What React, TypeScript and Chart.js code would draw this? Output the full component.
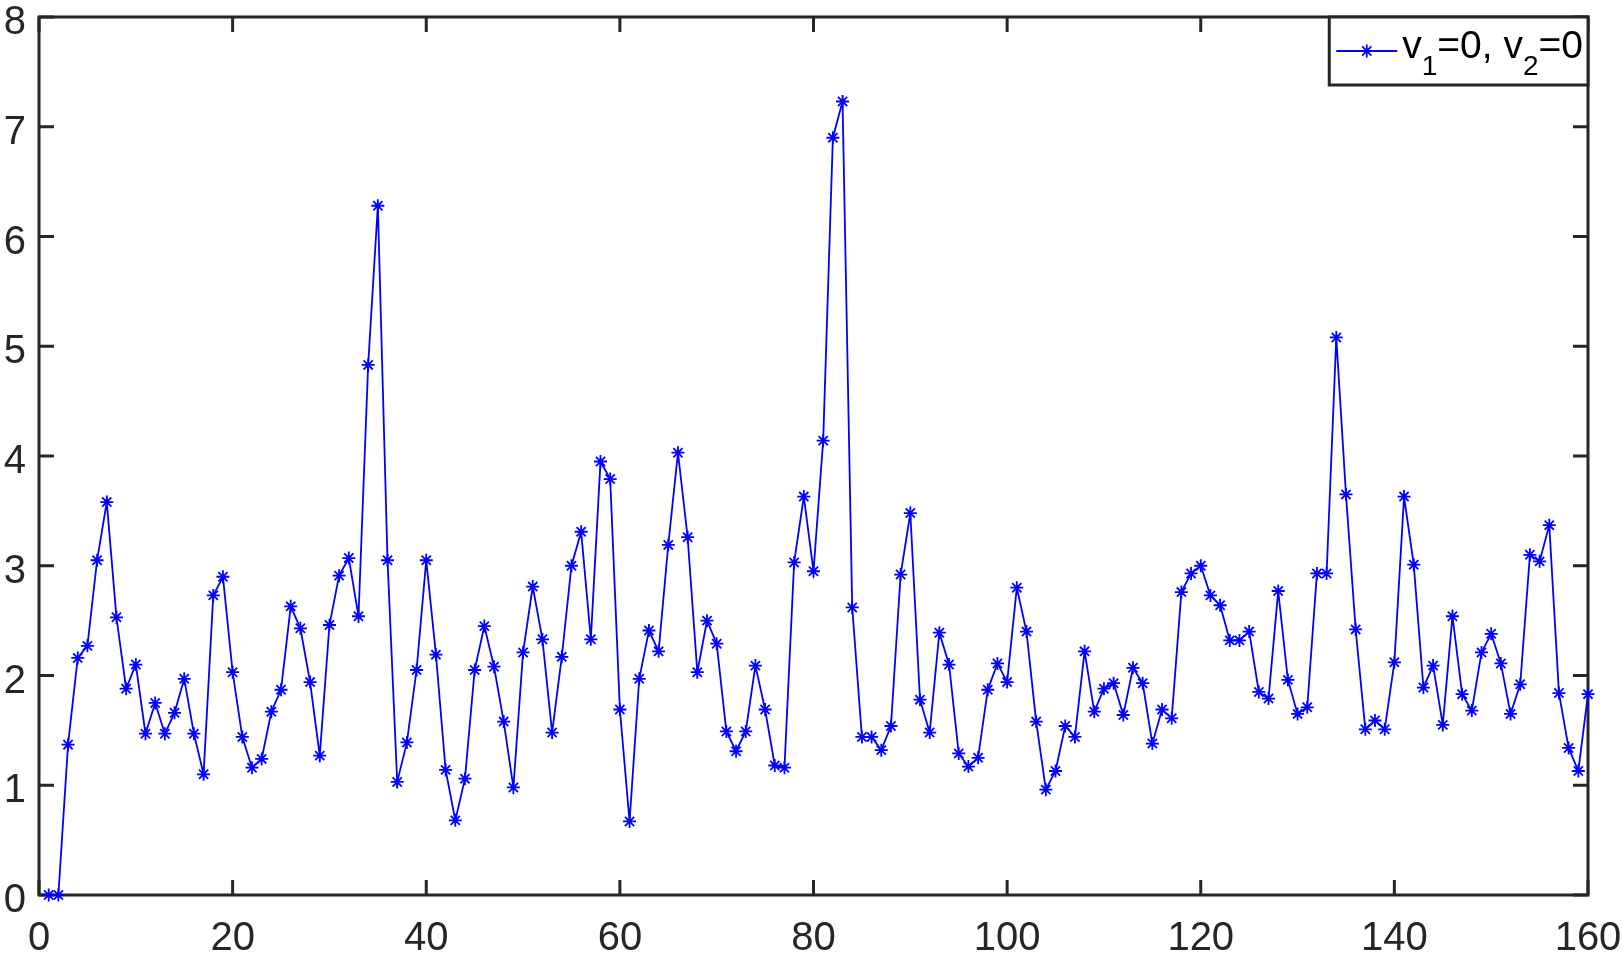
import React, { useEffect, useRef } from "react";
import { Chart, registerables } from "chart.js";

Chart.register(...registerables);

const yValues: number[] = [
  0, 0, 1.37, 2.16, 2.27, 3.05, 3.58, 2.53, 1.88, 2.1,
  1.47, 1.75, 1.47, 1.66, 1.97, 1.47, 1.1, 2.73, 2.9, 2.03,
  1.44, 1.16, 1.24, 1.67, 1.87, 2.63, 2.43, 1.94, 1.27, 2.46,
  2.91, 3.07, 2.54, 4.83, 6.28, 3.05, 1.03, 1.39, 2.05, 3.05,
  2.19, 1.14, 0.68, 1.06, 2.05, 2.45, 2.08, 1.58, 0.98, 2.21,
  2.81, 2.33, 1.48, 2.17, 3.0, 3.31, 2.33, 3.95, 3.79, 1.69,
  0.67, 1.97, 2.41, 2.22, 3.19, 4.03, 3.26, 2.03, 2.5, 2.29,
  1.49, 1.31, 1.49, 2.09, 1.69, 1.18, 1.16, 3.03, 3.63, 2.95,
  4.14, 6.9, 7.23, 2.62, 1.44, 1.44, 1.32, 1.54, 2.92, 3.48,
  1.78, 1.48, 2.39, 2.1, 1.29, 1.17, 1.25, 1.87, 2.11, 1.94,
  2.8, 2.4, 1.58, 0.96, 1.13, 1.54, 1.44, 2.22, 1.67, 1.88,
  1.93, 1.64, 2.07, 1.93, 1.38, 1.69, 1.61, 2.76, 2.93, 3.0,
  2.73, 2.64, 2.32, 2.32, 2.4, 1.85, 1.79, 2.77, 1.96, 1.65,
  1.71, 2.93, 2.93, 5.08, 3.65, 2.42, 1.51, 1.59, 1.51, 2.12,
  3.63, 3.01, 1.89, 2.09, 1.55, 2.54, 1.83, 1.68, 2.21, 2.38,
  2.11, 1.65, 1.92, 3.1, 3.04, 3.37, 1.84, 1.34, 1.13, 1.83,
];

const xTicks: number[] = [0, 20, 40, 60, 80, 100, 120, 140, 160];
const yTicks: number[] = [0, 1, 2, 3, 4, 5, 6, 7, 8];
const legendMain: string[] = ["v", "=0, v", "=0"];
const legendSubs: string[] = ["1", "2"];

const AXIS_COLOR = "#262626";
const SERIES_COLOR = "#0000FF";
const FONT = "'Liberation Sans', Arial, Helvetica, sans-serif";

const framePlugin = {
  id: "frame",
  beforeDatasetsDraw(chart: any) {
    const { ctx, chartArea } = chart;
    const { left, right, top, bottom } = chartArea;
    const xs = chart.scales.x;
    const ys = chart.scales.y;
    const tl = 15;
    ctx.save();
    ctx.strokeStyle = AXIS_COLOR;
    ctx.lineWidth = 3;
    ctx.lineCap = "butt";
    ctx.beginPath();
    ctx.rect(left, top, right - left, bottom - top);
    ctx.stroke();
    ctx.beginPath();
    xTicks.forEach((v) => {
      const px = xs.getPixelForValue(v);
      ctx.moveTo(px, bottom);
      ctx.lineTo(px, bottom - tl);
      ctx.moveTo(px, top);
      ctx.lineTo(px, top + tl);
    });
    yTicks.forEach((v) => {
      const py = ys.getPixelForValue(v);
      ctx.moveTo(left, py);
      ctx.lineTo(left + tl, py);
      ctx.moveTo(right, py);
      ctx.lineTo(right - tl, py);
    });
    ctx.stroke();
    ctx.restore();
  },
};

const legendPlugin = {
  id: "customLegend",
  afterDatasetsDraw(chart: any) {
    const { ctx, chartArea } = chart;
    const mainSize = 39;
    const subSize = 28;
    ctx.save();
    ctx.font = `${mainSize}px ${FONT}`;
    const mainW = legendMain.map((t) => ctx.measureText(t).width);
    ctx.font = `${subSize}px ${FONT}`;
    const subW = legendSubs.map((t) => ctx.measureText(t).width);
    const textW = mainW.reduce((a, b) => a + b, 0) + subW.reduce((a, b) => a + b, 0);
    const lineLen = 61;
    const padL = 7;
    const gap = 5;
    const padR = 5;
    const boxW = padL + lineLen + gap + textW + padR;
    const boxH = 68;
    const bx = chartArea.right - boxW;
    const by = chartArea.top;
    ctx.fillStyle = "#ffffff";
    ctx.fillRect(bx, by, boxW, boxH);
    ctx.strokeStyle = AXIS_COLOR;
    ctx.lineWidth = 3;
    ctx.strokeRect(bx, by, boxW, boxH);
    const ly = by + 34;
    const lx0 = bx + padL;
    ctx.strokeStyle = SERIES_COLOR;
    ctx.lineWidth = 1.8;
    ctx.beginPath();
    ctx.moveTo(lx0, ly);
    ctx.lineTo(lx0 + lineLen, ly);
    ctx.stroke();
    const mx = lx0 + lineLen / 2;
    const r = 6.5;
    ctx.beginPath();
    for (let i = 0; i < 4; i++) {
      const a = (i * Math.PI) / 4;
      ctx.moveTo(mx - r * Math.cos(a), ly - r * Math.sin(a));
      ctx.lineTo(mx + r * Math.cos(a), ly + r * Math.sin(a));
    }
    ctx.stroke();
    let tx = lx0 + lineLen + gap;
    const baseMain = by + 41;
    const baseSub = by + 58;
    ctx.fillStyle = "#000000";
    ctx.textBaseline = "alphabetic";
    ctx.textAlign = "left";
    for (let i = 0; i < legendMain.length; i++) {
      ctx.font = `${mainSize}px ${FONT}`;
      ctx.fillText(legendMain[i], tx, baseMain);
      tx += mainW[i];
      if (i < legendSubs.length) {
        ctx.font = `${subSize}px ${FONT}`;
        ctx.fillText(legendSubs[i], tx, baseSub);
        tx += subW[i];
      }
    }
    ctx.restore();
  },
};

export default function App() {
  const canvasRef = useRef<HTMLCanvasElement | null>(null);

  useEffect(() => {
    if (!canvasRef.current) return;
    const points = yValues.map((y, i) => ({ x: i + 1, y }));
    const chart = new Chart(canvasRef.current, {
      type: "line",
      data: {
        datasets: [
          {
            label: "v1=0, v2=0",
            data: points,
            borderColor: SERIES_COLOR,
            backgroundColor: SERIES_COLOR,
            borderWidth: 1.8,
            pointStyle: "star",
            pointRadius: 6.5,
            pointBorderWidth: 1.8,
            pointBorderColor: SERIES_COLOR,
            pointHoverRadius: 6.5,
            tension: 0,
            clip: false as any,
          },
        ],
      },
      options: {
        animation: false,
        responsive: false,
        maintainAspectRatio: false,
        events: [],
        layout: { padding: { left: 0, top: 17, right: 35, bottom: 0 } },
        plugins: {
          legend: { display: false },
          tooltip: { enabled: false },
          title: { display: false },
        },
        scales: {
          x: {
            type: "linear",
            min: 0,
            max: 160,
            afterBuildTicks: (scale: any) => {
              scale.ticks = xTicks.map((v) => ({ value: v }));
            },
            afterFit: (scale: any) => {
              scale.height = 58;
              scale.paddingLeft = 0;
              scale.paddingRight = 0;
            },
            grid: { display: false, drawTicks: false },
            border: { display: false },
            ticks: {
              padding: 20,
              maxRotation: 0,
              autoSkip: false,
              color: AXIS_COLOR,
              font: { family: FONT, size: 40 },
            },
          },
          y: {
            type: "linear",
            min: 0,
            max: 8,
            afterBuildTicks: (scale: any) => {
              scale.ticks = yTicks.map((v) => ({ value: v }));
            },
            afterFit: (scale: any) => {
              scale.width = 39;
              scale.paddingTop = 0;
              scale.paddingBottom = 0;
            },
            grid: { display: false, drawTicks: false },
            border: { display: false },
            ticks: {
              padding: 13,
              labelOffset: 6,
              autoSkip: false,
              color: AXIS_COLOR,
              font: { family: FONT, size: 40 },
            },
          },
        },
      },
      plugins: [framePlugin, legendPlugin],
    });
    return () => chart.destroy();
  }, []);

  return (
    <div style={{ position: "fixed", left: 0, top: 0, width: 1623, height: 953, background: "#ffffff" }}>
      <canvas ref={canvasRef} width={1623} height={953} style={{ display: "block" }} />
    </div>
  );
}
